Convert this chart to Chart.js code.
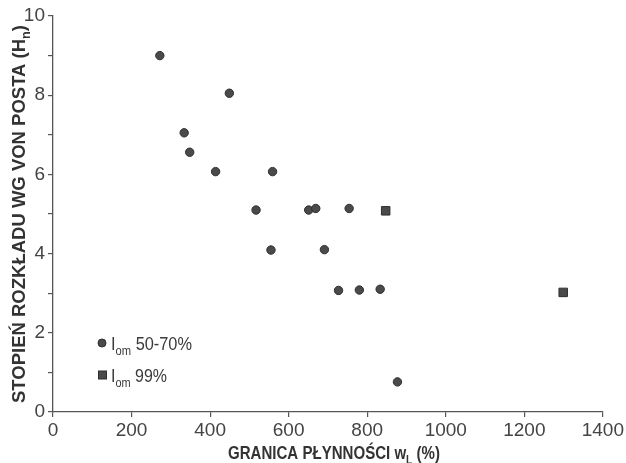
<!DOCTYPE html>
<html>
<head>
<meta charset="utf-8">
<script src="https://cdn.jsdelivr.net/npm/chart.js@4"></script>
<style>
html,body{margin:0;padding:0;background:#fff;}
#wrap{width:626px;height:463px;position:relative;}
</style>
</head>
<body>
<div id="wrap"><canvas id="c" width="626" height="463"></canvas></div>
<script>
// ---- data ----
const circleX = [272, 449, 334, 348, 414, 559, 517, 651, 669, 754, 555, 691, 727, 780, 833, 877];
const circleY = [9.0, 8.05, 7.05, 6.56, 6.07, 6.07, 5.10, 5.10, 5.14, 5.14, 4.09, 4.10, 3.07, 3.08, 3.10, 0.76];
const squareX = [847, 1299];
const squareY = [5.08, 3.02];
const xTicks = [0, 200, 400, 600, 800, 1000, 1200, 1400];
const yTicks = [0, 2, 4, 6, 8, 10];
const legendLabels = [["I", "om", " 50-70%"], ["I", "om", " 99%"]];
const xTitle = [["GRANICA PŁYNNOŚCI w", false], ["L", true], [" (%)", false]];
const yTitle = [["STOPIEŃ ROZKŁADU WG VON POSTA (H", false], ["n", true], [")", false]];

const FONT = "'Liberation Sans', Arial, sans-serif";
const MARK_FILL = '#4a4a4a', MARK_EDGE = '#2e2e2e';

function toPts(xs, ys){ return xs.map((x,i)=>({x:x, y:ys[i]})); }

// draw rich text (segments [text, isSub]) centered at cx,cy, optionally rotated, scaled to target width
function drawRich(ctx, segs, cx, cy, size, weight, color, rot, targetW){
  ctx.save();
  const subSize = Math.round(size*0.68);
  let w = 0;
  const parts = segs.map(([t,sub])=>{
    ctx.font = weight+' '+(sub?subSize:size)+'px '+FONT;
    const m = ctx.measureText(t).width;
    w += m;
    return {t, sub, m};
  });
  const sx = targetW ? targetW / w : 1;
  ctx.translate(cx, cy);
  ctx.rotate(rot||0);
  ctx.scale(sx, 1);
  ctx.fillStyle = color;
  ctx.textBaseline = 'alphabetic';
  ctx.textAlign = 'left';
  let x = -w/2;
  const base = size*0.36;
  parts.forEach(p=>{
    ctx.font = weight+' '+(p.sub?subSize:size)+'px '+FONT;
    ctx.fillText(p.t, x, base + (p.sub? size*0.28 : 0));
    x += p.m;
  });
  ctx.restore();
}

const decor = {
  id:'decor',
  afterDraw(chart){
    const ctx = chart.ctx;
    // axis titles
    drawRich(ctx, xTitle, 334, 452, 19, 'bold', '#333', 0, 212);
    drawRich(ctx, yTitle, 18, 214, 19, 'bold', '#333', -Math.PI/2, 378);
    // legend
    const rows = [{y:343, style:'circle'}, {y:375, style:'rect'}];
    rows.forEach((r,i)=>{
      ctx.save();
      ctx.fillStyle = MARK_FILL; ctx.strokeStyle = MARK_EDGE; ctx.lineWidth = 1;
      if (r.style==='circle'){ ctx.beginPath(); ctx.arc(102, r.y, 4, 0, Math.PI*2); ctx.fill(); ctx.stroke(); }
      else { ctx.fillRect(98.5, r.y-4, 8, 8); ctx.strokeRect(98.5, r.y-4, 8, 8); }
      ctx.restore();
      const lab = legendLabels[i];
      const segs = [[lab[0],false],[lab[1],true],[lab[2],false]];
      const target = i===0 ? 81 : 56;
      drawRich(ctx, segs, 111 + target/2, r.y, 19, 'normal', '#3a3a3a', 0, target);
    });
  }
};

new Chart(document.getElementById('c'), {
  type: 'scatter',
  data: {
    datasets: [
      { label: 'Iom 50-70%', data: toPts(circleX, circleY), pointStyle: 'circle', pointRadius: 4.2,
        backgroundColor: MARK_FILL, borderColor: MARK_EDGE, borderWidth: 1 },
      { label: 'Iom 99%', data: toPts(squareX, squareY), pointStyle: 'rect', pointRadius: 6,
        backgroundColor: MARK_FILL, borderColor: MARK_EDGE, borderWidth: 1 }
    ]
  },
  options: {
    responsive: false,
    animation: false,
    devicePixelRatio: 1,
    layout: { padding: { top: 16, right: 23, left: 0, bottom: 0 } },
    plugins: { legend: { display: false }, tooltip: { enabled: false } },
    scales: {
      x: {
        type: 'linear', min: 0, max: 1400,
        afterBuildTicks: s => { s.ticks = xTicks.map(v=>({value:v})); },
        afterFit: s => { s.height = 51; },
        ticks: { color: '#444', font: { family: FONT, size: 19 }, padding: 2, maxRotation: 0,
          callback: v => String(v) },
        grid: { drawOnChartArea: false, tickLength: 5, tickColor: '#555', lineWidth: 1.2 },
        border: { color: '#555', width: 1.3 }
      },
      y: {
        type: 'linear', min: 0, max: 10,
        afterBuildTicks: s => { const t=[]; for(let v=0; v<=10; v++) t.push({value:v}); s.ticks = t; },
        afterFit: s => { s.width = 53; },
        ticks: { color: '#444', font: { family: FONT, size: 19 }, padding: 3,
          callback: v => yTicks.includes(v) ? String(v) : '' },
        grid: { drawOnChartArea: false, tickLength: 5, tickColor: '#555', lineWidth: 1.2 },
        border: { color: '#555', width: 1.3 }
      }
    }
  },
  plugins: [decor]
});
</script>
</body>
</html>
